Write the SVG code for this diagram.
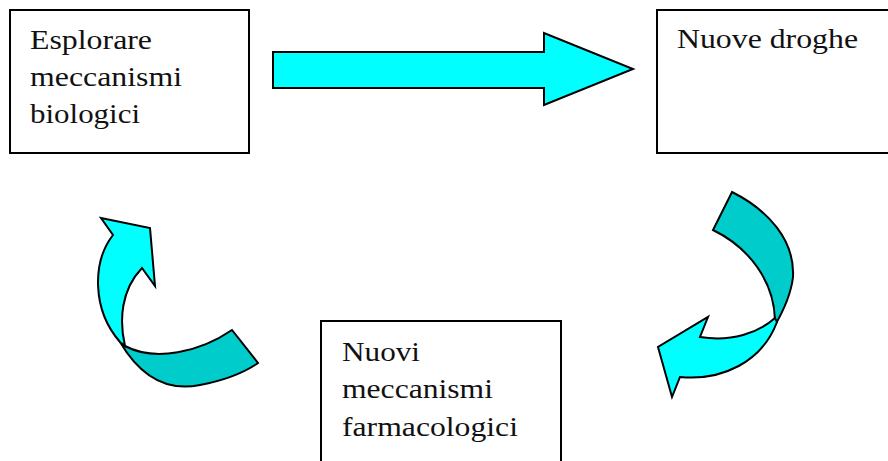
<svg xmlns="http://www.w3.org/2000/svg" width="888" height="461" viewBox="0 0 888 461">
<style>
.box{fill:#fff;stroke:#000;stroke-width:2}
.t{font-size:27px;fill:#111}
.light{fill:#00ffff;stroke:#000;stroke-width:2;stroke-linejoin:miter}
.dark{fill:#00cccc;stroke:#000;stroke-width:2;stroke-linejoin:miter}
</style>
<rect width="888" height="461" fill="#fff"/>
<g id="connectors">
<path class="light" d="M273,52 L544,52 L544,33 L633,69 L544,105 L544,88 L273,88 Z"/>
<g id="arrow-right-curved">
<path class="dark" d="M732,192 C768,210 795,240 793,277 C791,295 784,310 774,327 L775,320 C774,282 750,248 713,230 Z"/>
<path class="light" d="M775,318 C758,333 732,342 700,337 L708,317 L658,347 L672,397 L680,377 C722,381 762,362 777,322 Z"/>
</g>
<g id="arrow-left-curved">
<path class="dark" d="M120,342 C140,376 166,392 200,385 C226,380 245,372 258,363 L232,330 C200,352 155,362 125,346 Z"/>
<path class="light" d="M125,346 C119,320 121,290 142,268 L155,286 L150,228 L101,218 L113,235 C92,262 92,310 120,342 Z"/>
</g>
</g>
<g font-family="Liberation Serif, Tinos, Times New Roman, serif">
<g id="node-esplorare">
<rect class="box" x="10" y="10" width="239" height="143"/>
<text class="t" x="30" y="49" textLength="122" lengthAdjust="spacingAndGlyphs">Esplorare</text>
<text class="t" x="30" y="86" textLength="152" lengthAdjust="spacingAndGlyphs">meccanismi</text>
<text class="t" x="30" y="123" textLength="110" lengthAdjust="spacingAndGlyphs">biologici</text>
</g>
<g id="node-nuove-droghe">
<rect class="box" x="657" y="10" width="240" height="143"/>
<text class="t" x="677" y="48" textLength="181" lengthAdjust="spacingAndGlyphs">Nuove droghe</text>
</g>
<g id="node-nuovi-meccanismi">
<rect class="box" x="321" y="321" width="240" height="160"/>
<text class="t" x="342" y="361" textLength="78" lengthAdjust="spacingAndGlyphs">Nuovi</text>
<text class="t" x="342" y="398" textLength="151" lengthAdjust="spacingAndGlyphs">meccanismi</text>
<text class="t" x="342" y="436" textLength="176" lengthAdjust="spacingAndGlyphs">farmacologici</text>
</g>
</g>
</svg>
